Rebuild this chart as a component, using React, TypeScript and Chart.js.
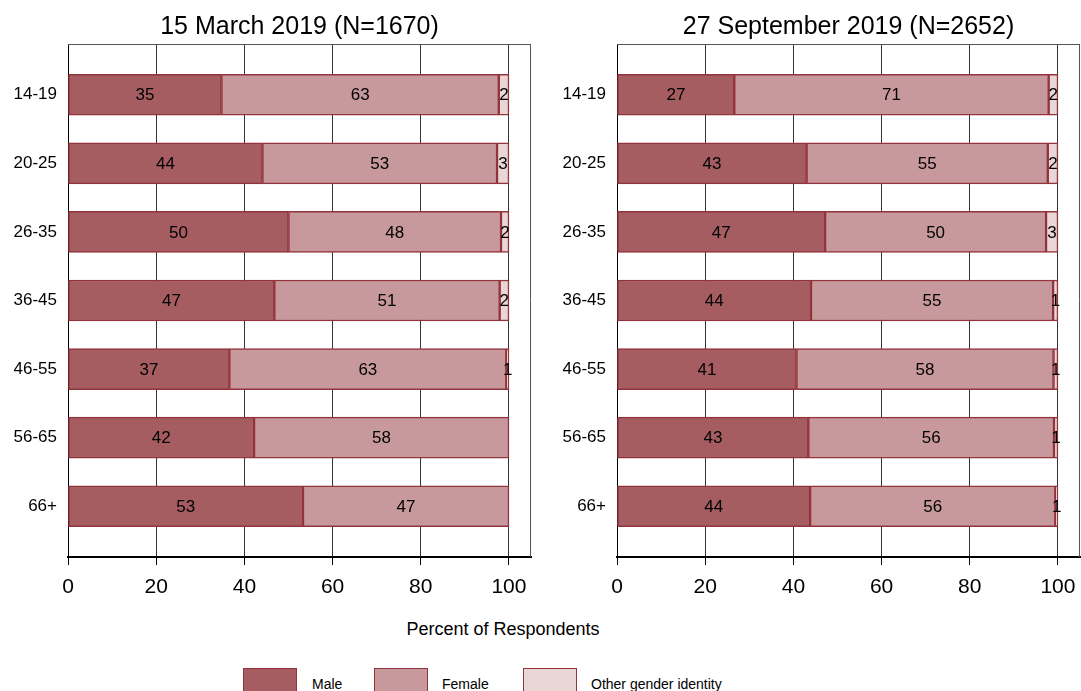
import React, { useEffect, useRef } from "react";
import { Chart, registerables } from "chart.js";

Chart.register(...registerables);

const FONT = "'Liberation Sans', Arial, Helvetica, sans-serif";

const ageGroups = ["14-19", "20-25", "26-35", "36-45", "46-55", "56-65", "66+"];
const seriesNames = ["Male", "Female", "Other gender identity"];
const seriesFill = ["#a55d62", "#c8999c", "#ead6d7"];
const seriesBorder = "#93333c";

const marchTitle = "15 March 2019 (N=1670)";
const marchMale = [34.8, 44.1, 50.0, 46.8, 36.6, 42.2, 53.3];
const marchFemale = [62.9, 53.2, 48.2, 51.1, 62.8, 57.8, 46.7];
const marchOther = [2.3, 2.7, 1.8, 2.1, 0.6, 0, 0];

const septTitle = "27 September 2019 (N=2652)";
const septMale = [26.6, 43.0, 47.2, 44.0, 40.7, 43.4, 43.8];
const septFemale = [71.3, 54.7, 50.1, 54.9, 58.3, 55.7, 55.6];
const septOther = [2.1, 2.3, 2.7, 1.1, 1.0, 0.9, 0.6];

const xTicks = [0, 20, 40, 60, 80, 100];
const xAxisTitle = "Percent of Respondents";

const legendBoxLeft = [243, 374, 523];
const legendTextLeft = [312, 442, 591];

const framePlugin = {
  id: "frame",
  afterDraw(chart: any) {
    const { ctx, chartArea } = chart;
    const { left, right, top, bottom } = chartArea;
    ctx.save();
    ctx.strokeStyle = "#555";
    ctx.lineWidth = 1;
    ctx.beginPath();
    ctx.moveTo(left, Math.round(top) + 0.5);
    ctx.lineTo(right, Math.round(top) + 0.5);
    ctx.moveTo(Math.round(right) - 0.5, top);
    ctx.lineTo(Math.round(right) - 0.5, bottom);
    ctx.stroke();
    ctx.restore();
  },
};

const labelPlugin = {
  id: "barLabels",
  afterDatasetsDraw(chart: any) {
    const ctx = chart.ctx;
    ctx.save();
    ctx.font = `17px ${FONT}`;
    ctx.fillStyle = "#000";
    ctx.textAlign = "center";
    ctx.textBaseline = "middle";
    chart.data.datasets.forEach((ds: any, di: number) => {
      const meta = chart.getDatasetMeta(di);
      meta.data.forEach((el: any, i: number) => {
        const v = ds.data[i].x;
        if (!v) return;
        const { x, base, y } = el.getProps(["x", "base", "y"], true);
        ctx.fillText(String(Math.round(v)), (x + base) / 2, y + 1);
      });
    });
    ctx.restore();
  },
};

function makeConfig(title: string, male: number[], female: number[], other: number[], yWidth: number, padRight: number): any {
  const series = [male, female, other];
  return {
    type: "bar",
    data: {
      datasets: series.map((vals, si) => ({
        label: seriesNames[si],
        data: vals.map((v, i) => ({ x: v, y: i })),
        backgroundColor: seriesFill[si],
        borderColor: seriesBorder,
        borderWidth: 1.5,
        borderSkipped: false,
        barThickness: 41,
      })),
    },
    options: {
      indexAxis: "y",
      animation: false,
      responsive: true,
      maintainAspectRatio: false,
      layout: { padding: { left: 0, right: padRight, top: 0, bottom: 0 } },
      plugins: {
        legend: { display: false },
        tooltip: { enabled: false },
        title: {
          display: true,
          text: title,
          fullSize: false,
          color: "#000",
          font: { family: FONT, size: 25, weight: "normal", lineHeight: 1.2 },
          padding: { top: 12.5, bottom: 1.5 },
        },
      },
      scales: {
        x: {
          type: "linear",
          min: 0,
          max: 105,
          stacked: true,
          offset: false,
          afterBuildTicks: (s: any) => {
            s.ticks = xTicks.map((v) => ({ value: v }));
          },
          afterFit: (s: any) => {
            s.height = 43;
            s.paddingLeft = 0;
            s.paddingRight = 0;
          },
          grid: { color: "#333", lineWidth: 1, drawTicks: true, tickLength: 8, tickColor: "#000", offset: false },
          border: { display: true, color: "#000", width: 2 },
          ticks: { color: "#000", font: { family: FONT, size: 21 }, padding: 10, maxRotation: 0, autoSkip: false },
        },
        y: {
          type: "linear",
          min: -0.74,
          max: 6.74,
          reverse: true,
          stacked: true,
          offset: false,
          afterBuildTicks: (s: any) => {
            s.ticks = ageGroups.map((_, i) => ({ value: i }));
          },
          afterFit: (s: any) => {
            s.width = yWidth;
            s.paddingTop = 0;
            s.paddingBottom = 0;
          },
          grid: { display: false, drawTicks: false, offset: false },
          border: { display: true, color: "#000", width: 1 },
          ticks: {
            callback: (v: any) => ageGroups[v] ?? "",
            color: "#000",
            font: { family: FONT, size: 17 },
            padding: 11,
            autoSkip: false,
          },
        },
      },
    },
    plugins: [framePlugin, labelPlugin],
  };
}

function Panel(props: { config: any; left: number; width: number }) {
  const ref = useRef<HTMLCanvasElement | null>(null);
  useEffect(() => {
    if (!ref.current) return;
    const chart = new Chart(ref.current, props.config);
    return () => chart.destroy();
  }, []);
  return (
    <div style={{ position: "absolute", left: props.left, top: 0, width: props.width, height: 600 }}>
      <canvas ref={ref} />
    </div>
  );
}

export default function App() {
  const leftCfg = makeConfig(marchTitle, marchMale, marchFemale, marchOther, 68, 14);
  const rightCfg = makeConfig(septTitle, septMale, septFemale, septOther, 72, 1);
  return (
    <div
      style={{
        position: "absolute",
        left: 0,
        top: 0,
        width: 1081,
        height: 691,
        overflow: "hidden",
        background: "#fff",
        fontFamily: FONT,
      }}
    >
      <Panel config={leftCfg} left={0} width={545} />
      <Panel config={rightCfg} left={545} width={536} />
      <div
        style={{
          position: "absolute",
          left: 0,
          width: 1006,
          top: 619,
          textAlign: "center",
          fontSize: 18,
          lineHeight: "20px",
          color: "#000",
        }}
      >
        {xAxisTitle}
      </div>
      {seriesNames.map((name, i) => (
        <React.Fragment key={name}>
          <div
            style={{
              position: "absolute",
              left: legendBoxLeft[i],
              top: 668,
              width: 54,
              height: 30,
              boxSizing: "border-box",
              background: seriesFill[i],
              border: `1.5px solid ${seriesBorder}`,
            }}
          />
          <div
            style={{
              position: "absolute",
              left: legendTextLeft[i],
              top: 676,
              fontSize: 14,
              lineHeight: "16px",
              color: "#000",
              whiteSpace: "nowrap",
            }}
          >
            {name}
          </div>
        </React.Fragment>
      ))}
    </div>
  );
}
